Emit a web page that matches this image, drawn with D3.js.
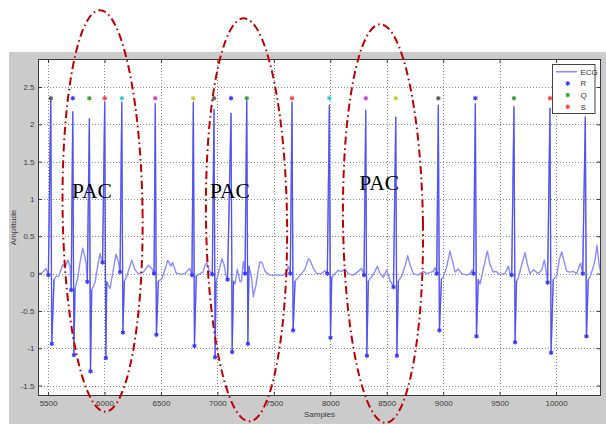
<!DOCTYPE html>
<html>
<head>
<meta charset="utf-8">
<script src="https://cdn.jsdelivr.net/npm/d3@7"></script>
<style>
	html, body { margin: 0; padding: 0; background: #fff; }
	svg { display: block; }
	.tick text { font-family: "Liberation Sans", Arial, sans-serif; font-size: 8px; fill: #3c3c3c; }
	.axis-title { font-family: "Liberation Sans", Arial, sans-serif; font-size: 8px; fill: #3c3c3c; }
	.legend-text { font-family: "Liberation Sans", Arial, sans-serif; font-size: 8px; fill: #333; }
	.pac { font-family: "Liberation Serif", "Times New Roman", serif; font-size: 21.5px; fill: #000; }
</style>
</head>
<body>
<svg id="chart" width="606" height="424"></svg>
<script>
// axis ranges and ticks
const xRange = [5411, 10398];
const yRange = [-1.64, 2.875];
const xTicks = [5500, 6000, 6500, 7000, 7500, 8000, 8500, 9000, 9500, 10000];
const yTicks = [-1.5, -1, -0.5, 0, 0.5, 1, 1.5, 2, 2.5];

// detected beats (samples / amplitude)
const rSample = [5524, 5719, 5866, 6002, 6153, 6450, 6787, 6970, 7121, 7260, 7661, 7992, 8314, 8580, 8957, 9285, 9627, 9946, 10259];
const rAmp = [2.36, 2.17, 2.08, 2.3, 2.3, 2.28, 2.3, 2.2, 2.15, 2.32, 2.3, 2.26, 2.19, 2.1, 2.26, 2.28, 2.24, 2.22, 2.1];
const sSample = [5533, 5729, 5876, 6012, 6163, 6460, 6797, 6980, 7131, 7270, 7671, 8002, 8324, 8590, 8967, 9295, 9637, 9956, 10269];
const sAmp = [-0.94, -1.09, -1.31, -1.13, -0.79, -0.82, -0.97, -1.12, -1.05, -0.94, -0.76, -0.86, -1.1, -1.1, -0.76, -0.84, -0.92, -1.06, -0.84];
const qSample = [5503, 5705, 5848, 5983, 6138, 6439, 6775, 6955, 7090, 7245, 7646, 7974, 8299, 8560, 8943, 9269, 9607, 9925, 10236];
const qAmp = [-0.02, -0.22, -0.11, 0.15, 0.02, 0.0, -0.02, -0.01, -0.08, 0.0, 0.0, 0.0, -0.02, -0.18, 0.0, 0.0, -0.02, -0.12, 0.0];
const peakLevel = 2.35;
const peakColors = ["#555555", "#3333ff", "#2fa02f", "#ff3b3b", "#2cc8c8", "#cc3dcc", "#c8c82a"];

// ECG samples between the QRS complexes
const ecgWave = [
	[5411, 0.0], [5447, 0.01], [5482, 0.07],
	[5553, -0.08], [5571, -0.04], [5597, -0.03], [5630, 0.12], [5651, 0.08], [5674, 0.18], [5695, 0.1],
	[5739, -0.2], [5763, -0.06], [5783, 0.15], [5807, 0.34], [5823, 0.25], [5837, 0.14],
	[5887, -0.22], [5916, -0.12], [5946, 0.16], [5961, 0.27], [5975, 0.18],
	[6020, -0.11], [6049, -0.2], [6102, 0.26], [6123, 0.16],
	[6176, -0.1], [6197, -0.04], [6241, 0.18], [6271, 0.05], [6300, 0.0], [6344, 0.02], [6388, 0.11], [6418, 0.07],
	[6477, -0.1], [6507, -0.07], [6536, 0.05], [6560, 0.18], [6589, 0.1], [6604, 0.15], [6634, 0.01], [6678, -0.01], [6713, 0.0], [6755, 0.07],
	[6813, -0.03], [6846, 0.0], [6873, 0.02], [6888, 0.1], [6905, 0.15], [6930, 0.03],
	[6988, -0.11], [7015, 0.05], [7041, 0.2], [7059, 0.12], [7077, -0.03],
	[7143, -0.1], [7156, -0.14], [7177, 0.06], [7200, -0.11], [7213, -0.1], [7230, 0.16],
	[7280, 0.1], [7304, -0.07], [7318, -0.31], [7342, -0.15], [7363, 0.06], [7378, 0.16], [7398, 0.14], [7422, 0.03], [7466, -0.02], [7584, -0.02], [7614, 0.02], [7628, 0.1],
	[7688, -0.1], [7717, -0.05], [7776, 0.06], [7806, 0.2], [7821, 0.18], [7850, 0.07], [7880, 0.0], [7924, 0.0], [7953, 0.04],
	[8013, -0.05], [8042, 0.0], [8071, 0.04], [8101, 0.03], [8131, 0.06], [8160, 0.0], [8204, -0.02], [8248, 0.03], [8278, 0.07],
	[8337, -0.1], [8367, -0.04], [8396, 0.03], [8417, 0.1], [8440, 0.0], [8470, -0.05], [8500, 0.05], [8529, -0.09],
	[8603, -0.1], [8633, -0.03], [8662, 0.1], [8686, 0.24], [8706, 0.12], [8735, 0.0], [8780, -0.02], [8824, 0.03], [8854, 0.0], [8913, 0.03], [8928, 0.08],
	[8985, -0.07], [9001, -0.05], [9031, 0.09], [9060, 0.3], [9084, 0.16], [9105, 0.02], [9134, 0.06], [9164, 0.0], [9208, -0.02], [9238, 0.0], [9258, 0.05],
	[9311, -0.08], [9326, -0.14], [9350, 0.02], [9370, 0.16], [9391, 0.3], [9415, 0.12], [9444, 0.02], [9468, 0.03], [9497, -0.01], [9548, 0.0], [9577, 0.1], [9592, 0.0],
	[9650, -0.1], [9665, -0.06], [9696, 0.12], [9725, 0.28], [9745, 0.13], [9769, 0.0], [9798, 0.05], [9843, 0.0], [9873, 0.05], [9896, 0.18], [9911, 0.05],
	[9975, -0.08], [10006, -0.03], [10029, 0.19], [10050, 0.29], [10070, 0.17], [10094, 0.03], [10123, 0.02], [10153, 0.03], [10183, 0.0], [10206, 0.1], [10218, 0.14],
	[10285, -0.08], [10300, -0.05], [10330, 0.09], [10347, 0.2], [10362, 0.38], [10383, 0.1], [10398, 0.0]
];

// hand-drawn PAC annotations: centre sample, centre amplitude, half width, half height
const pacRegions = [
	[5983, 0.84, 354, 2.69],
	[7258, 0.72, 359, 2.7],
	[8467, 0.67, 354, 2.67]
];
const pacLabels = [
	[5713, 1.01],
	[6935, 1.01],
	[8257, 1.12]
];

const legendItems = [
	{ label: "ECG", type: "line", color: "#8c8cff" },
	{ label: "R", type: "marker", color: "#3333ff" },
	{ label: "Q", type: "marker", color: "#2fa02f" },
	{ label: "S", type: "marker", color: "#ff3b3b" }
];

(function () {
	const svg = d3.select("#chart");
	const W = 606, H = 424;
	const plot = { left: 38, top: 59, right: 601, bottom: 396 };

	const x = d3.scaleLinear().domain(xRange).range([plot.left, plot.right]);
	const y = d3.scaleLinear().domain(yRange).range([plot.bottom, plot.top]);

	// figure background
	svg.append("rect").attr("x", 9).attr("y", 52).attr("width", W - 9).attr("height", H - 52).attr("fill", "#cbcbcb");
	svg.append("rect")
		.attr("x", plot.left).attr("y", plot.top)
		.attr("width", plot.right - plot.left).attr("height", plot.bottom - plot.top)
		.attr("fill", "#fff");

	svg.append("clipPath").attr("id", "plot-clip")
		.append("rect")
		.attr("x", plot.left).attr("y", plot.top)
		.attr("width", plot.right - plot.left).attr("height", plot.bottom - plot.top);

	// dotted grid
	const grid = svg.append("g").attr("stroke", "#8a8a8a").attr("stroke-dasharray", "1,2").attr("stroke-width", 1);
	grid.selectAll("line.gx").data(xTicks).join("line")
		.attr("x1", (d) => Math.round(x(d)) + 0.5).attr("x2", (d) => Math.round(x(d)) + 0.5)
		.attr("y1", plot.top).attr("y2", plot.bottom);
	grid.selectAll("line.gy").data(yTicks).join("line")
		.attr("y1", (d) => Math.round(y(d)) + 0.5).attr("y2", (d) => Math.round(y(d)) + 0.5)
		.attr("x1", plot.left).attr("x2", plot.right);

	// ECG trace
	const beats = rSample.map((s, i) => ({
		q: [qSample[i], qAmp[i]],
		r: [s, rAmp[i]],
		s: [sSample[i], sAmp[i]]
	}));
	const ecgPoints = ecgWave
		.concat(beats.flatMap((b) => [b.q, b.r, b.s]))
		.sort((a, b) => a[0] - b[0]);

	const line = d3.line().x((d) => x(d[0])).y((d) => y(d[1]));
	const traces = svg.append("g").attr("clip-path", "url(#plot-clip)").attr("fill", "none");

	traces.append("path")
		.attr("d", line(ecgPoints))
		.attr("stroke", "#8c8cff")
		.attr("stroke-width", 1.4)
		.attr("stroke-linejoin", "round");

	// QRS complexes look darker where the strokes overlap
	traces.selectAll("path.qrs")
		.data(beats)
		.join("path")
		.attr("class", "qrs")
		.attr("d", (b) => {
			const next = ecgPoints.find((p) => p[0] > b.s[0]);
			return line([b.q, b.r, b.s, next || b.s]);
		})
		.attr("stroke", "#4646f5")
		.attr("stroke-width", 1.1)
		.attr("stroke-opacity", 0.85);

	const asterisk = d3.symbol(d3.symbolAsterisk || d3.symbolCross, 16);
	function drawMarker(g, px, py, color) {
		const m = g.append("g").attr("transform", `translate(${px},${py})`);
		m.append("circle").attr("r", 2).attr("fill", color).attr("fill-opacity", 0.75);
		m.append("path").attr("d", asterisk()).attr("fill", "none").attr("stroke", color).attr("stroke-width", 0.8);
	}

	const markers = svg.append("g").attr("clip-path", "url(#plot-clip)");
	beats.forEach((b, i) => {
		drawMarker(markers, x(b.q[0]), y(b.q[1]), "#3333ff");
		drawMarker(markers, x(b.s[0]), y(b.s[1]), "#3333ff");
		drawMarker(markers, x(b.r[0]), y(peakLevel), peakColors[i % peakColors.length]);
	});

	// frame and ticks
	svg.append("rect")
		.attr("x", plot.left + 0.5).attr("y", plot.top + 0.5)
		.attr("width", plot.right - plot.left - 1).attr("height", plot.bottom - plot.top - 1)
		.attr("fill", "none").attr("stroke", "#3a3a3a");

	const fmt = (d) => String(d);
	const axisStyle = (g) => {
		g.select(".domain").remove();
		g.selectAll(".tick line").attr("stroke", "#3a3a3a");
	};

	svg.append("g")
		.attr("transform", `translate(0,${plot.bottom})`)
		.call(d3.axisBottom(x).tickValues(xTicks).tickFormat(fmt).tickSizeInner(-4).tickSizeOuter(0).tickPadding(4.5))
		.call(axisStyle);
	svg.append("g")
		.attr("transform", `translate(0,${plot.top})`)
		.call(d3.axisTop(x).tickValues(xTicks).tickFormat("").tickSizeInner(-4).tickSizeOuter(0))
		.call(axisStyle);
	svg.append("g")
		.attr("transform", `translate(${plot.left},0)`)
		.call(d3.axisLeft(y).tickValues(yTicks).tickFormat(fmt).tickSizeInner(-4).tickSizeOuter(0).tickPadding(3.5))
		.call(axisStyle);
	svg.append("g")
		.attr("transform", `translate(${plot.right},0)`)
		.call(d3.axisRight(y).tickValues(yTicks).tickFormat("").tickSizeInner(-4).tickSizeOuter(0))
		.call(axisStyle);

	svg.append("text").attr("class", "axis-title")
		.attr("x", (plot.left + plot.right) / 2).attr("y", 417)
		.attr("text-anchor", "middle").text("Samples");
	svg.append("text").attr("class", "axis-title")
		.attr("transform", `translate(16,${(plot.top + plot.bottom) / 2}) rotate(-90)`)
		.attr("text-anchor", "middle").text("Amplitude");

	// legend
	const lg = svg.append("g").attr("transform", `translate(${plot.right - 48.5},${plot.top + 5.5})`);
	lg.append("rect").attr("width", 42.5).attr("height", 49).attr("fill", "#fff").attr("stroke", "#444").attr("stroke-width", 1);
	legendItems.forEach((item, i) => {
		const cy = 7.2 + i * 11.7;
		if (item.type === "line") {
			lg.append("line").attr("x1", 3.5).attr("x2", 24.5).attr("y1", cy).attr("y2", cy)
				.attr("stroke", item.color).attr("stroke-width", 1.6);
		} else {
			drawMarker(lg, 15.2, cy, item.color);
		}
		lg.append("text").attr("class", "legend-text").attr("x", 28).attr("y", cy + 3).text(item.label);
	});

	// PAC annotations
	const ann = svg.append("g");
	ann.selectAll("ellipse")
		.data(pacRegions)
		.join("ellipse")
		.attr("cx", (d) => x(d[0]))
		.attr("cy", (d) => y(d[1]))
		.attr("rx", (d) => x(d[0] + d[2]) - x(d[0]))
		.attr("ry", (d) => y(d[1] - d[3]) - y(d[1]))
		.attr("transform", (d) => `rotate(-0.8,${x(d[0])},${y(d[1])})`)
		.attr("fill", "none")
		.attr("stroke", "#c00000")
		.attr("stroke-width", 2)
		.attr("stroke-dasharray", "8,3.5,1.6,3.5");

	ann.selectAll("text")
		.data(pacLabels)
		.join("text")
		.attr("class", "pac")
		.attr("x", (d) => x(d[0]))
		.attr("y", (d) => y(d[1]))
		.text("PAC");
})();
</script>
</body>
</html>
